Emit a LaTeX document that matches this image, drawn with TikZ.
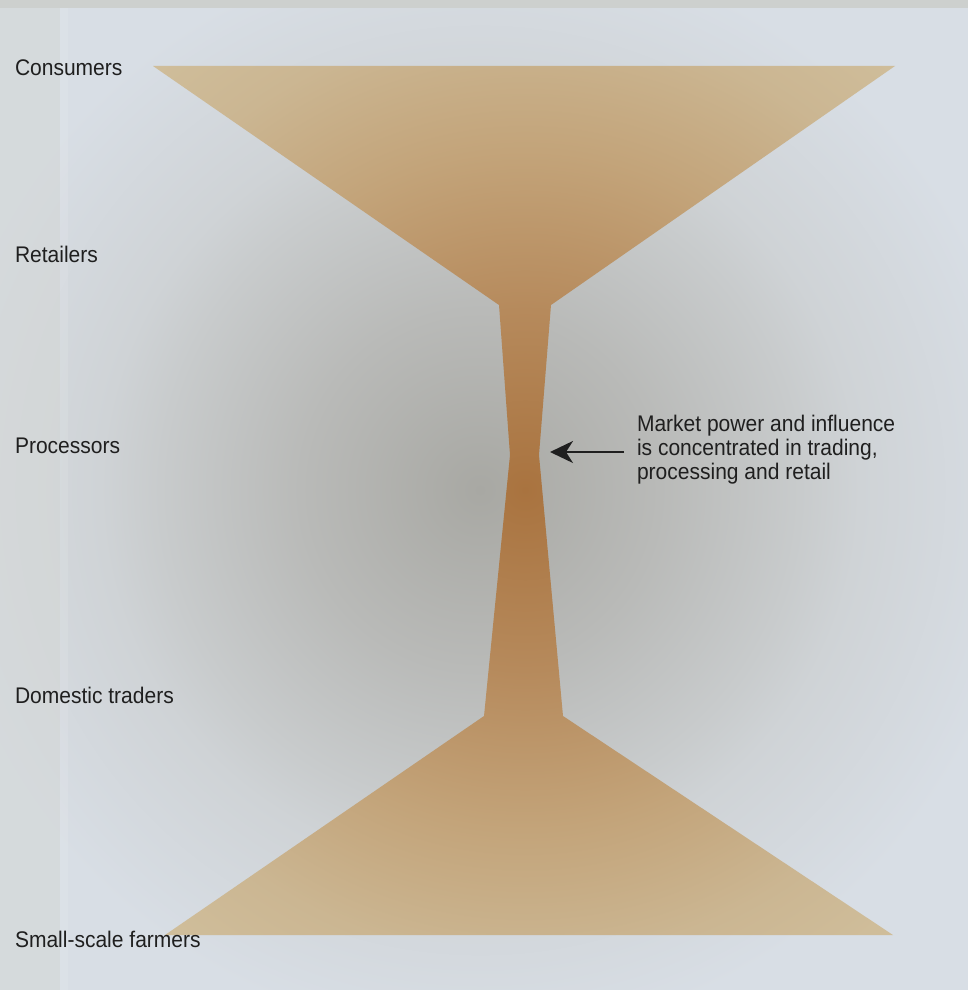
\documentclass[tikz,border=0pt]{standalone}
\usepackage{fontspec}
\setmainfont{Liberation Sans}[FakeStretch=0.93]
\usetikzlibrary{arrows.meta}
\definecolor{tan0}{HTML}{A9733F}
\definecolor{tan1}{HTML}{B68A5C}
\definecolor{tan2}{HTML}{C3A47A}
\definecolor{tan3}{HTML}{CBB692}
\definecolor{tan4}{HTML}{CFBD9A}
\definecolor{bg0}{HTML}{A8A8A3}
\definecolor{bg1}{HTML}{B9BAB8}
\definecolor{bg2}{HTML}{C8CBCC}
\definecolor{bg3}{HTML}{CFD3D6}
\definecolor{bg4}{HTML}{D8DEE5}
\definecolor{stripc}{HTML}{D4D7D5}
\definecolor{topc}{HTML}{CDD0CE}
\definecolor{txtc}{HTML}{1F1F1F}
\pgfdeclareradialshading{tanrad}{\pgfpoint{0bp}{0bp}}{color(0bp)=(tan0); color(9bp)=(tan1); color(17bp)=(tan2); color(23.5bp)=(tan3); color(28bp)=(tan4); color(40bp)=(tan4)}
\pgfdeclareradialshading{bgrad}{\pgfpoint{0bp}{0bp}}{color(0bp)=(bg0); color(9bp)=(bg1); color(16bp)=(bg2); color(19bp)=(bg3); color(27.5bp)=(bg4); color(40bp)=(bg4)}
\tikzset{
  lab/.style={anchor=base west, inner sep=0pt, outer sep=0pt, text=txtc, font=\fontsize{22.6}{27}\selectfont},
  pointer/.style={draw=txtc, line width=2pt, -{Stealth[length=23pt,width=22pt,inset=7pt]}}
}
\begin{document}
\begin{tikzpicture}[x=1pt,y=-1pt]
\useasboundingbox (0,0) rectangle (968,990);
% background
\shade[shading=bgrad] (-20,-10) rectangle (980,990);
\fill[stripc, opacity=0.5] (0,0) rectangle (60,990);
\fill[white, opacity=0.1] (60,0) rectangle (68,990);
\fill[topc] (0,0) rectangle (968,8);
% hourglass
\begin{scope}
\clip (153,66) -- (895,66) -- (551,305) -- (539,455) -- (563,716) -- (893,935)
      -- (165,935) -- (484,716) -- (510,455) -- (499,305) -- cycle;
\shade[shading=tanrad] (25,-10) rectangle (1025,990);
\end{scope}
% labels
\node[lab] (consumers) at (15,75) {Consumers};
\node[lab] (retailers) at (15,262) {Retailers};
\node[lab] (processors) at (15,453) {Processors};
\node[lab] (traders) at (15,703) {Domestic traders};
\node[lab] (farmers) at (15,947) {Small-scale farmers};
% annotation
\node[lab] (ann1) at (637,431) {Market power and influence};
\node[lab] (ann2) at (637,455) {is concentrated in trading,};
\node[lab] (ann3) at (637,479) {processing and retail};
\coordinate (astart) at (624,452);
\coordinate (atip) at (550,452);
\draw[pointer] (astart) -- (atip);
\end{tikzpicture}
\end{document}
